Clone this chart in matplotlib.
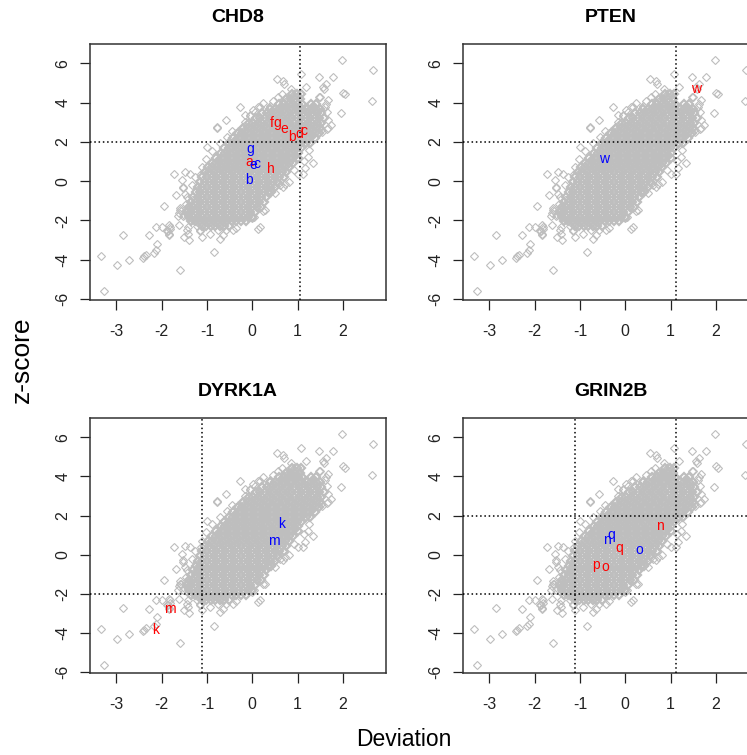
import matplotlib
matplotlib.use("Agg")
import matplotlib.pyplot as plt

plt.rcParams["font.family"] = ["Liberation Sans", "DejaVu Sans"]
plt.rcParams["axes.unicode_minus"] = False

# ---- shared (Deviation, z-score) cloud -------------------------------------
# isolated genes away from the main body
sparse_points = [
    (-3.27, -5.61), (-3.34, -3.79), (-2.98, -4.29), (-2.72, -4.03), (-2.86, -2.72),
    (-2.42, -3.91), (-2.38, -3.83), (-2.35, -3.74),
    (-2.28, -2.76), (-2.13, -2.33), (-2.11, -3.18), (-2.16, -3.64), (-2.13, -3.52),
    (-2.00, -2.33), (-1.96, -1.28), (-1.89, -2.55), (-1.85, -2.76), (-1.82, -2.33),
    (-1.85, -2.25), (-1.87, -2.55), (-1.82, -2.45), (-1.83, -2.70),
    (-1.72, 0.39), (-1.69, -0.71), (-1.60, -4.51), (-1.56, 0.05), (-1.54, -0.37),
    (-1.49, -0.63), (-1.57, -1.51), (-1.63, -1.79), (-1.54, -1.79), (-1.45, -1.65),
    (-1.62, -2.24), (-1.51, -2.84), (-1.39, -2.98), (-1.45, -2.50), (-1.43, -2.67),
    (-1.60, -1.35), (-1.62, -1.60), (-1.50, -1.70), (-1.45, -1.55),
    (-1.22, -2.30), (-1.15, -2.54),
    (-1.38, 0.39), (-1.27, 0.22), (-1.34, -0.20), (-1.45, -0.80), (-1.34, -0.97),
    (-1.38, -1.31), (-1.16, -2.50), (-1.12, -2.84), (-1.10, 0.73), (-1.13, 0.39),
    (-0.99, 1.75), (-0.77, 2.69), (-0.57, 3.11),
    (-0.71, -2.93), (-0.85, -3.61), (-0.57, -2.50), (-0.35, -2.36),
    (-0.27, 3.79), (-0.16, 3.37), (-0.05, 3.37), (0.02, 3.62), (0.13, 3.79), (0.24, 3.96),
    (0.04, -1.82), (0.13, -2.41), (0.23, -1.51),
    (0.46, -0.20), (0.57, -0.03), (0.68, -0.29), (0.72, -0.12),
    (0.54, 5.19), (0.67, 5.10), (0.71, 4.95), (0.85, 4.68), (1.07, 5.46),
    (1.16, 0.65), (1.13, 0.39), (1.24, 1.24), (1.26, 1.58), (1.35, 0.95),
    (1.47, 5.29), (1.48, 4.30), (1.57, 4.78), (1.52, 2.60), (1.49, 2.94),
    (1.66, 2.69), (1.68, 3.11), (1.68, 4.13), (1.63, 4.95), (1.79, 5.29),
    (1.95, 3.45), (2.01, 4.51), (2.05, 4.42), (1.98, 6.17), (2.66, 5.66), (2.64, 4.10),
    # ragged edge of the main body
    (-0.79, 2.77), (-0.36, 2.46), (-1.49, 0.47), (-1.52, -0.29), (-1.46, -1.14),
    (-1.59, -1.48), (-1.41, -1.65), (-1.30, -1.99), (-1.43, -2.33),
    (0.17, -2.33), (-0.01, -1.90), (0.28, -1.48), (0.50, -0.60), (0.61, -0.20),
    (0.82, -0.03), (0.91, 0.56), (1.00, 0.39),
    (-0.64, -2.76), (-0.42, -2.50), (-0.75, -2.50), (-0.93, -2.67),
    (-0.23, 2.65), (-0.16, 2.99), (-0.05, 3.33), (0.06, 3.50), (0.17, 3.76),
    (0.39, 3.84), (0.46, 4.10), (0.57, 4.27), (0.65, 4.44), (0.68, 4.02), (0.79, 4.18),
    (1.19, 4.78), (1.50, 4.27), (1.58, 4.69), (1.60, 3.80), (1.65, 3.50), (1.62, 3.95),
    (1.73, 2.84), (1.64, 2.65), (1.53, 2.48), (1.14, 1.04),
    (-1.02, 1.15), (-0.88, 1.55), (-0.72, 1.95), (-0.55, 2.25), (-0.45, 2.55),
]

# main body: z-score rows with the Deviation values along each row
dense_rows = [
    (-2.30, [-1.12, -1.02, -0.92, -0.82, -0.72, -0.62, -0.52]),
    (-2.05, [-1.35, -1.25, -1.15, -1.05, -0.95, -0.85, -0.75, -0.65, -0.55, -0.45,
             -0.35, -0.25, -0.15]),
    (-1.80, [-1.40, -1.30, -1.20, -1.10, -1.00, -0.90, -0.80, -0.70, -0.60, -0.50,
             -0.40, -0.30, -0.20, -0.10, 0.00]),
    (-1.55, [-1.45, -1.35, -1.25, -1.15, -1.05, -0.95, -0.85, -0.75, -0.65, -0.55,
             -0.45, -0.35, -0.25, -0.15, -0.05, 0.05]),
    (-1.30, [-1.40, -1.30, -1.20, -1.10, -1.00, -0.90, -0.80, -0.70, -0.60, -0.50,
             -0.40, -0.30, -0.20, -0.10, 0.00, 0.10, 0.20]),
    (-1.05, [-1.35, -1.25, -1.15, -1.05, -0.95, -0.85, -0.75, -0.65, -0.55, -0.45,
             -0.35, -0.25, -0.15, -0.05, 0.05, 0.15, 0.25]),
    (-0.80, [-1.30, -1.20, -1.10, -1.00, -0.90, -0.80, -0.70, -0.60, -0.50, -0.40,
             -0.30, -0.20, -0.10, 0.00, 0.10, 0.20, 0.30]),
    (-0.55, [-1.25, -1.15, -1.05, -0.95, -0.85, -0.75, -0.65, -0.55, -0.45, -0.35,
             -0.25, -0.15, -0.05, 0.05, 0.15, 0.25, 0.35, 0.42]),
    (-0.30, [-1.20, -1.10, -1.00, -0.90, -0.80, -0.70, -0.60, -0.50, -0.40, -0.30,
             -0.20, -0.10, 0.00, 0.10, 0.20, 0.30, 0.40, 0.50]),
    (-0.05, [-1.15, -1.05, -0.95, -0.85, -0.75, -0.65, -0.55, -0.45, -0.35, -0.25,
             -0.15, -0.05, 0.05, 0.15, 0.25, 0.35, 0.45, 0.55]),
    (0.20, [-1.10, -1.00, -0.90, -0.80, -0.70, -0.60, -0.50, -0.40, -0.30, -0.20,
            -0.10, 0.00, 0.10, 0.20, 0.30, 0.40, 0.50, 0.60, 0.70]),
    (0.45, [-1.05, -0.95, -0.85, -0.75, -0.65, -0.55, -0.45, -0.35, -0.25, -0.15,
            -0.05, 0.05, 0.15, 0.25, 0.35, 0.45, 0.55, 0.65, 0.75]),
    (0.70, [-0.98, -0.88, -0.78, -0.68, -0.58, -0.48, -0.38, -0.28, -0.18, -0.08,
            0.02, 0.12, 0.22, 0.32, 0.42, 0.52, 0.62, 0.72, 0.82]),
    (0.95, [-0.90, -0.80, -0.70, -0.60, -0.50, -0.40, -0.30, -0.20, -0.10, 0.00,
            0.10, 0.20, 0.30, 0.40, 0.50, 0.60, 0.70, 0.80, 0.90]),
    (1.20, [-0.80, -0.70, -0.60, -0.50, -0.40, -0.30, -0.20, -0.10, 0.00, 0.10,
            0.20, 0.30, 0.40, 0.50, 0.60, 0.70, 0.80, 0.90, 1.00]),
    (1.45, [-0.70, -0.60, -0.50, -0.40, -0.30, -0.20, -0.10, 0.00, 0.10, 0.20,
            0.30, 0.40, 0.50, 0.60, 0.70, 0.80, 0.90, 1.00]),
    (1.70, [-0.62, -0.52, -0.42, -0.32, -0.22, -0.12, -0.02, 0.08, 0.18, 0.28,
            0.38, 0.48, 0.58, 0.68, 0.78, 0.88, 0.98, 1.08]),
    (1.95, [-0.52, -0.42, -0.32, -0.22, -0.12, -0.02, 0.08, 0.18, 0.28, 0.38,
            0.48, 0.58, 0.68, 0.78, 0.88, 0.98, 1.08, 1.18, 1.28]),
    (2.20, [-0.42, -0.32, -0.22, -0.12, -0.02, 0.08, 0.18, 0.28, 0.38, 0.48,
            0.58, 0.68, 0.78, 0.88, 0.98, 1.08, 1.18, 1.28, 1.38]),
    (2.45, [-0.32, -0.22, -0.12, -0.02, 0.08, 0.18, 0.28, 0.38, 0.48, 0.58,
            0.68, 0.78, 0.88, 0.98, 1.08, 1.18, 1.28, 1.38, 1.48]),
    (2.70, [-0.20, -0.10, 0.00, 0.10, 0.20, 0.30, 0.40, 0.50, 0.60, 0.70,
            0.80, 0.90, 1.00, 1.10, 1.20, 1.30, 1.40, 1.50]),
    (2.95, [-0.08, 0.02, 0.12, 0.22, 0.32, 0.42, 0.52, 0.62, 0.72, 0.82,
            0.92, 1.02, 1.12, 1.22, 1.32, 1.42, 1.52]),
    (3.20, [0.08, 0.18, 0.28, 0.38, 0.48, 0.58, 0.68, 0.78, 0.88, 0.98,
            1.08, 1.18, 1.28, 1.38, 1.48, 1.58]),
    (3.45, [0.22, 0.32, 0.42, 0.52, 0.62, 0.72, 0.82, 0.92, 1.02, 1.12,
            1.22, 1.32, 1.42, 1.52]),
    (3.70, [0.40, 0.50, 0.60, 0.70, 0.80, 0.90, 1.00, 1.10, 1.20, 1.30, 1.40, 1.50]),
    (3.95, [0.60, 0.70, 0.80, 0.90, 1.00, 1.10, 1.30, 1.40]),
    (4.20, [0.75, 0.85, 0.95, 1.05]),
    (4.45, [0.88, 0.98, 1.08]),
]

# ---- per-gene annotations ---------------------------------------------------
genes = ["CHD8", "PTEN", "DYRK1A", "GRIN2B"]
cut_dev = {"CHD8": [1.06], "PTEN": [1.11], "DYRK1A": [-1.10], "GRIN2B": [-1.11, 1.11]}
cut_z = {"CHD8": [2], "PTEN": [2], "DYRK1A": [-2], "GRIN2B": [-2, 2]}
gene_marks = {
    "CHD8": [("a", -0.07, 0.99, "red"), ("b", 0.87, 2.23, "red"), ("c", 1.14, 2.57, "red"),
             ("d", 1.03, 2.40, "red"), ("e", 0.71, 2.64, "red"), ("f", 0.44, 2.94, "red"),
             ("g", 0.55, 2.94, "red"), ("h", 0.42, 0.62, "red"),
             ("g", -0.05, 1.62, "blue"), ("e", 0.02, 0.80, "blue"),
             ("c", 0.10, 0.90, "blue"), ("b", -0.07, 0.05, "blue")],
    "PTEN": [("w", 1.55, 4.68, "red"), ("w", -0.48, 1.14, "blue")],
    "DYRK1A": [("k", 0.65, 1.58, "blue"), ("m", 0.48, 0.68, "blue"),
               ("m", -1.82, -2.75, "red"), ("k", -2.13, -3.85, "red")],
    "GRIN2B": [("n", 0.77, 1.49, "red"), ("q", -0.13, 0.37, "red"),
               ("p", -0.65, -0.51, "red"), ("o", -0.45, -0.63, "red"),
               ("o", 0.31, 0.25, "blue"), ("n", -0.41, 0.76, "blue"),
               ("q", -0.32, 1.00, "blue")],
}

x_ticks = [-3, -2, -1, 0, 1, 2]
y_ticks = [-6, -4, -2, 0, 2, 4, 6]

sparse_dev = [p[0] for p in sparse_points]
sparse_z = [p[1] for p in sparse_points]
dense_dev = [x for _, xs in dense_rows for x in xs]
dense_z = [y for y, xs in dense_rows for _ in xs]

W, H = 747, 755
fig = plt.figure(figsize=(W / 100, H / 100), dpi=100)


def rect(left, top, right, bottom):
    return [left / W, 1 - bottom / H, (right - left) / W, (bottom - top) / H]


boxes = {
    "CHD8": rect(90, 44.3, 386.3, 300),
    "PTEN": rect(463, 44.3, 759.3, 300),
    "DYRK1A": rect(90, 418.3, 386.3, 673.3),
    "GRIN2B": rect(463, 418.3, 759.3, 673.3),
}

GRAY = "#BEBEBE"
for gene in genes:
    ax = fig.add_axes(boxes[gene])
    # overlapping outlines in the crowded middle merge into a solid mass
    ax.plot(dense_dev, dense_z, ls="none", marker="D", ms=4.0, mfc="none",
            mec=GRAY, mew=1.6, zorder=2)
    ax.plot(sparse_dev, sparse_z, ls="none", marker="D", ms=4.0, mfc="none",
            mec=GRAY, mew=0.8, zorder=2)
    for v in cut_dev[gene]:
        ax.axvline(v, color="black", lw=1.1, ls=(0, (1, 1.8)), zorder=3)
    for h in cut_z[gene]:
        ax.axhline(h, color="black", lw=1.1, ls=(0, (1, 1.8)), zorder=3)
    for lab, x, y, col in gene_marks[gene]:
        ax.text(x, y, lab, color=col, fontsize=10, ha="center", va="center", zorder=4)
    ax.set_xlim(-3.583, 2.958)
    ax.set_ylim(-6.05, 6.97)
    ax.set_xticks(x_ticks)
    ax.set_xticklabels([str(t) for t in x_ticks])
    ax.set_yticks(y_ticks)
    ax.set_yticklabels([str(t) for t in y_ticks], rotation=90, va="center")
    ax.tick_params(direction="out", length=7, width=0.9, labelsize=11.5,
                   color="#222222", labelcolor="#222222")
    ax.tick_params(axis="x", pad=10)
    ax.tick_params(axis="y", pad=7)
    for s in ax.spines.values():
        s.set_linewidth(1.1)
        s.set_color("#333333")
    ax.text(0.5, 1 + 27 / 256, gene, transform=ax.transAxes, ha="center",
            va="center", fontsize=14, fontweight="bold")

fig.text(22 / W, 1 - 360 / H, "z-score", rotation=90, ha="center", va="center",
         fontsize=19)
fig.text(403.5 / W, 1 - 740 / H, "Deviation", ha="center", va="center", fontsize=16.5)

fig.savefig("out.png", dpi=100)
